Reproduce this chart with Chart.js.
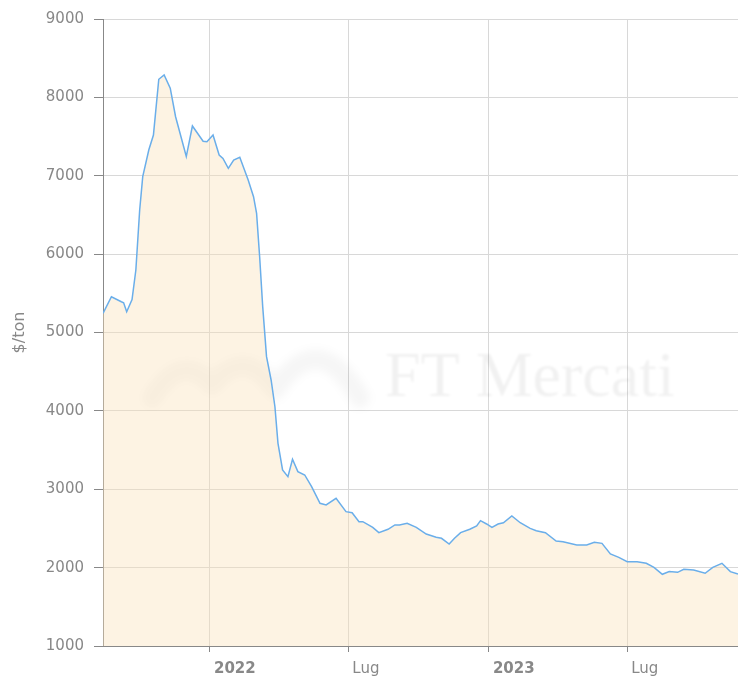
<!DOCTYPE html>
<html>
<head>
<meta charset="utf-8">
<script src="https://cdn.jsdelivr.net/npm/chart.js@4/dist/chart.umd.min.js"></script>
<style>
  html, body { margin: 0; padding: 0; background: #fff; }
  .chart-container { width: 738px; height: 682px; position: relative; }
</style>
</head>
<body>
<div class="chart-container"><canvas id="chartCanvas"></canvas></div>
<script>
// price series ($/ton)
const dates = [
  '2021-08-14', '2021-08-25', '2021-09-07', '2021-09-10', '2021-09-14', '2021-09-21', '2021-09-26',
  '2021-10-01', '2021-10-05', '2021-10-13', '2021-10-19', '2021-10-26', '2021-11-02', '2021-11-10',
  '2021-11-17', '2021-12-01', '2021-12-09', '2021-12-23', '2021-12-28', '2022-01-05', '2022-01-13',
  '2022-01-18', '2022-01-25', '2022-02-01', '2022-02-09', '2022-02-20', '2022-02-27', '2022-03-03',
  '2022-03-07', '2022-03-11', '2022-03-16', '2022-03-22', '2022-03-27', '2022-03-31', '2022-04-06',
  '2022-04-13', '2022-04-19', '2022-04-26', '2022-05-05', '2022-05-14', '2022-05-25', '2022-06-02',
  '2022-06-15', '2022-06-28', '2022-07-06', '2022-07-15', '2022-07-20', '2022-08-02', '2022-08-10',
  '2022-08-22', '2022-08-31', '2022-09-06', '2022-09-16', '2022-09-28', '2022-10-11', '2022-10-24',
  '2022-10-31', '2022-11-10', '2022-11-17', '2022-11-25', '2022-12-07', '2022-12-16', '2022-12-21',
  '2022-12-29', '2023-01-05', '2023-01-13', '2023-01-20', '2023-01-31', '2023-02-11', '2023-02-24',
  '2023-03-04', '2023-03-16', '2023-03-30', '2023-04-08', '2023-04-26', '2023-05-09', '2023-05-19',
  '2023-05-29', '2023-06-09', '2023-06-20', '2023-07-01', '2023-07-14', '2023-07-26', '2023-08-05',
  '2023-08-16', '2023-08-25', '2023-09-05', '2023-09-13', '2023-09-26', '2023-10-11', '2023-10-21',
  '2023-11-02', '2023-11-13', '2023-11-23'
];
const prices = [
  5245, 5456, 5392, 5380, 5265, 5420, 5797,
  6563, 6988, 7331, 7520, 8231, 8286, 8117,
  7753, 7245, 7635, 7441, 7435, 7520, 7265,
  7222, 7095, 7200, 7235, 6946, 6733, 6520,
  5967, 5330, 4692, 4394, 4053, 3586, 3246,
  3161, 3382, 3225, 3182, 3033, 2821, 2800,
  2885, 2714, 2701, 2586, 2586, 2514, 2446,
  2489, 2544, 2544, 2565, 2514, 2429, 2387,
  2374, 2301, 2374, 2446, 2489, 2531, 2599,
  2557, 2514, 2557, 2573, 2659, 2573, 2501,
  2471, 2446, 2340, 2331, 2289, 2289, 2323,
  2310, 2174, 2131, 2076, 2076, 2055, 2004,
  1915, 1949, 1940, 1979, 1970, 1928, 2004,
  2055, 1949, 1919
];
const tickDates = ['2022-01-01', '2022-07-01', '2023-01-01', '2023-07-01'];
const tickLabels = ['2022', 'Lug', '2023', 'Lug'];
const yMin = 1000;
const yMax = 9000;
const yStep = 1000;

// dates -> days since 1 Jan 2022 (no date adapter, so a linear axis)
const origin = Date.UTC(2022, 0, 1);
const toDay = (s) => {
  const [y, m, d] = s.split('-').map(Number);
  return (Date.UTC(y, m - 1, d) - origin) / 86400000;
};
const tickDays = tickDates.map(toDay);
const points = dates.map((d, i) => ({ x: toDay(d), y: prices[i] }));

const watermark = {
  id: 'watermark',
  beforeDatasetsDraw(chart) {
    const ctx = chart.ctx;
    ctx.save();
    ctx.filter = 'blur(4px)';
    ctx.strokeStyle = 'rgba(0, 0, 0, 0.035)';
    ctx.lineWidth = 20;
    ctx.lineCap = 'round';
    ctx.lineJoin = 'round';
    ctx.beginPath();
    ctx.moveTo(152, 398);
    ctx.quadraticCurveTo(182, 350, 212, 385);
    ctx.quadraticCurveTo(245, 345, 275, 390);
    ctx.quadraticCurveTo(318, 325, 360, 398);
    ctx.stroke();
    ctx.filter = 'blur(1px)';
    ctx.fillStyle = 'rgba(0, 0, 0, 0.055)';
    ctx.font = '64px "Liberation Serif"';
    ctx.textBaseline = 'alphabetic';
    ctx.fillText('FT Mercati', 385, 396);
    ctx.restore();
  }
};

const ctx = document.getElementById('chartCanvas').getContext('2d');
new Chart(ctx, {
  type: 'line',
  data: {
    datasets: [{
      label: '$/ton',
      data: points,
      borderColor: '#6aaeea',
      borderWidth: 1.5,
      backgroundColor: 'rgba(251, 226, 185, 0.4)',
      fill: 'start',
      pointRadius: 0,
      tension: 0,
    }],
  },
  options: {
    responsive: true,
    maintainAspectRatio: false,
    animation: false,
    devicePixelRatio: 1,
    layout: { padding: { top: 19, right: 0, left: 0, bottom: 0 } },
    scales: {
      x: {
        type: 'linear',
        min: toDay(dates[0]),
        max: toDay(dates[dates.length - 1]),
        afterBuildTicks: (axis) => { axis.ticks = tickDays.map((v) => ({ value: v })); },
        afterFit: (axis) => { axis.height = 36; },
        grid: { color: '#d8d8d8', tickColor: '#888', tickLength: 6 },
        border: { color: '#888' },
        ticks: {
          autoSkip: false,
          maxRotation: 0,
          align: 'start',
          padding: 8,
          labelOffset: 4,
          color: '#888',
          font: (c) => ({
            family: '"DejaVu Sans"',
            size: 15,
            weight: (c.index === 0 || c.index === 2) ? 'bold' : 'normal',
          }),
          callback: (value) => {
            const i = tickDays.indexOf(value);
            return i >= 0 ? tickLabels[i] : '';
          },
        },
      },
      y: {
        min: yMin,
        max: yMax,
        afterFit: (axis) => { axis.width = 103; },
        grid: { color: '#d8d8d8', tickColor: '#888', tickLength: 9 },
        border: { color: '#888' },
        ticks: {
          stepSize: yStep,
          padding: 10,
          color: '#888',
          font: { family: '"DejaVu Sans"', size: 15 },
          callback: (value) => String(value),
        },
        title: {
          display: true,
          text: '$/ton',
          color: '#888',
          padding: { top: 10 },
          font: { family: '"DejaVu Sans"', size: 16 },
        },
      },
    },
    plugins: {
      legend: { display: false },
      tooltip: { enabled: false },
    },
  },
  plugins: [watermark],
});
</script>
</body>
</html>
